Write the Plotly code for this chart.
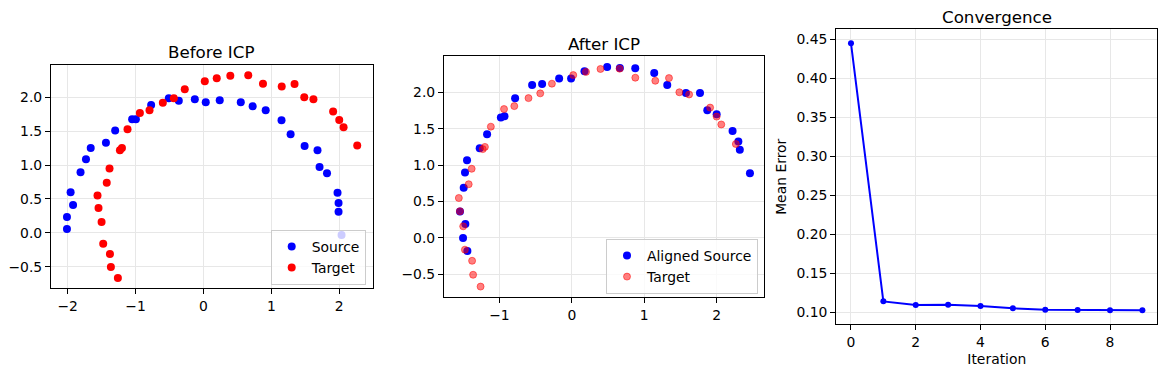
import plotly.graph_objects as go

# ---- data ----
source_x = [-2.01, -2.01, -1.956, -1.92, -1.81, -1.73, -1.66, -1.436, -1.30, -1.05, -0.995, -0.77,
            -0.51, -0.363, -0.127, 0.034, 0.24, 0.55, 0.725, 0.917, 1.15, 1.284, 1.49, 1.68, 1.71,
            1.82, 1.975, 1.99, 1.99, 2.034]
source_y = [0.057, 0.234, 0.60, 0.41, 0.894, 1.086, 1.25, 1.33, 1.51, 1.676, 1.676, 1.887,
            1.985, 1.95, 1.97, 1.926, 1.956, 1.926, 1.867, 1.81, 1.66, 1.455, 1.28, 1.22, 0.973,
            0.88, 0.59, 0.44, 0.31, -0.032]

target_x = [-1.26, -1.363, -1.377, -1.476, -1.50, -1.545, -1.56, -1.424, -1.383, -1.23, -1.20,
            -1.118, -0.936, -0.794, -0.598, -0.436, -0.275, 0.02, 0.196, 0.396, 0.66, 0.877,
            1.153, 1.342, 1.485, 1.62, 1.91, 2.0, 2.064, 2.265]
target_y = [-0.667, -0.505, -0.313, -0.16, 0.16, 0.367, 0.549, 0.738, 0.95, 1.22, 1.25,
            1.528, 1.77, 1.81, 1.92, 1.985, 2.118, 2.236, 2.28, 2.32, 2.324, 2.2,
            2.158, 2.195, 2.0, 1.97, 1.79, 1.666, 1.558, 1.29]

aligned_x = [-1.502, -1.442, -1.47, -1.544, -1.493, -1.475, -1.447, -1.272, -1.17, -0.98, -0.93,
             -0.783, -0.548, -0.41, -0.175, -0.01, 0.175, 0.488, 0.664, 0.876, 1.138, 1.318,
             1.576, 1.77, 1.871, 2.0, 2.22, 2.30, 2.32, 2.46]
aligned_y = [0.0, -0.178, 0.192, 0.365, 0.69, 0.90, 1.068, 1.233, 1.425, 1.653, 1.67,
             1.918, 2.10, 2.114, 2.19, 2.19, 2.288, 2.347, 2.333, 2.329, 2.265, 2.10,
             1.99, 1.99, 1.753, 1.70, 1.47, 1.324, 1.21, 0.89]

iterations = [0, 1, 2, 3, 4, 5, 6, 7, 8, 9]
mean_error = [0.445, 0.114, 0.1094, 0.1096, 0.1081, 0.1051, 0.1031, 0.1028, 0.1027, 0.1026]

titles = ["Before ICP", "After ICP", "Convergence"]

# ---- layout constants ----
W, H = 1166, 374
FONT = "DejaVu Sans"
TICK = 13.9
GRID = "#e7e7e7"

def px_x(a, b):
    return [a / W, b / W]

def px_y(top, bottom):
    return [1 - bottom / H, 1 - top / H]

fig = go.Figure()

fig.add_trace(go.Scatter(x=source_x, y=source_y, mode="markers", name="Source",
                         marker=dict(color="#0000ff", size=8, line=dict(width=0)),
                         xaxis="x", yaxis="y", legend="legend"))
fig.add_trace(go.Scatter(x=target_x, y=target_y, mode="markers", name="Target",
                         marker=dict(color="#ff0000", size=8, line=dict(width=0)),
                         xaxis="x", yaxis="y", legend="legend"))
fig.add_trace(go.Scatter(x=aligned_x, y=aligned_y, mode="markers", name="Aligned Source",
                         marker=dict(color="#0000ff", size=8, line=dict(width=0)),
                         xaxis="x2", yaxis="y2", legend="legend2"))
fig.add_trace(go.Scatter(x=target_x, y=target_y, mode="markers", name="Target",
                         marker=dict(color="rgba(255,0,0,0.5)", size=7,
                                     line=dict(width=1, color="rgba(255,0,0,0.5)")),
                         xaxis="x2", yaxis="y2", legend="legend2"))
fig.add_trace(go.Scatter(x=iterations, y=mean_error, mode="lines+markers", showlegend=False,
                         line=dict(color="#0000ff", width=2),
                         marker=dict(color="#0000ff", size=6),
                         xaxis="x3", yaxis="y3"))

def ax(domain, rng, dtick, fmt, anchor, **kw):
    d = dict(domain=domain, range=rng, dtick=dtick, tick0=0, tickformat=fmt, anchor=anchor,
             showline=True, mirror=True, linecolor="black", linewidth=1.1,
             ticks="outside", ticklen=5, tickwidth=1.1, tickcolor="black",
             showgrid=True, gridcolor=GRID, gridwidth=1.1, zeroline=False,
             tickfont=dict(family=FONT, size=TICK, color="black"))
    d.update(kw)
    return d

layout = dict(
    width=W, height=H, margin=dict(l=0, r=0, t=0, b=0),
    paper_bgcolor="white", plot_bgcolor="white",
    font=dict(family=FONT, size=TICK, color="black"),
    xaxis=ax(px_x(51, 372.5), [-2.245, 2.49], 1, "d", "y"),
    yaxis=ax(px_y(65, 288), [-0.815, 2.477], 0.5, ".1f", "x"),
    xaxis2=ax(px_x(444, 764), [-1.765, 2.654], 1, "d", "y2"),
    yaxis2=ax(px_y(56, 297), [-0.81, 2.498], 0.5, ".1f", "x2"),
    xaxis3=ax(px_x(836.3, 1157.3), [-0.453, 9.46], 2, "d", "y3",
              title=dict(text="Iteration", font=dict(family=FONT, size=TICK), standoff=5)),
    yaxis3=ax(px_y(29.3, 324.3), [0.0846, 0.4628], 0.05, ".2f", "x3",
              title=dict(text="Mean Error", font=dict(family=FONT, size=TICK), standoff=6)),
    legend=dict(x=365.7 / W, y=1 - 285 / H, xanchor="right", yanchor="bottom",
                bgcolor="rgba(255,255,255,0.8)", bordercolor="#cccccc", borderwidth=1,
                font=dict(family=FONT, size=TICK), tracegroupgap=0),
    legend2=dict(x=758 / W, y=1 - 294 / H, xanchor="right", yanchor="bottom",
                 bgcolor="rgba(255,255,255,0.8)", bordercolor="#cccccc", borderwidth=1,
                 font=dict(family=FONT, size=TICK), tracegroupgap=0),
)
fig.update_layout(**layout)

title_pos = [((51 + 372.5) / 2, 52), ((444 + 764) / 2, 44), ((836.3 + 1157.3) / 2, 17)]
for t, (cx, cy) in zip(titles, title_pos):
    fig.add_annotation(text=t, x=cx / W, y=1 - cy / H, xref="paper", yref="paper",
                       xanchor="center", yanchor="middle", showarrow=False,
                       font=dict(family=FONT, size=16.7, color="black"))

fig.write_html("out.html", config={"displayModeBar": False},
               post_script="document.body.style.margin='0';document.body.style.overflow='hidden';")
